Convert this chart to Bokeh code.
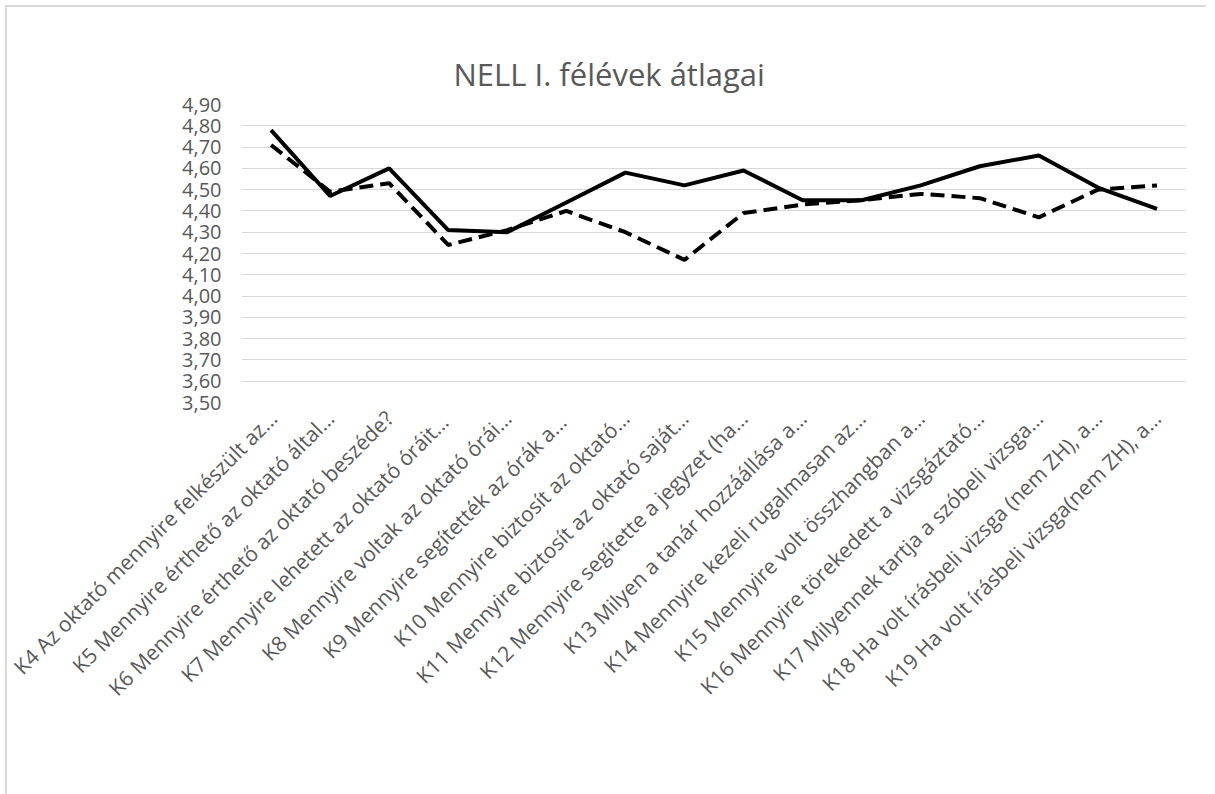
from bokeh.plotting import figure
from bokeh.models import Range1d, FixedTicker, CustomJSTickFormatter, Legend, LegendItem, ColumnDataSource
from bokeh.embed import file_html
from bokeh.resources import INLINE
import math

categories = [
    "K4 Az oktató mennyire felkészült az…",
    "K5 Mennyire érthető az oktató által…",
    "K6 Mennyire érthető az oktató beszéde?",
    "K7 Mennyire lehetett  az oktató óráit…",
    "K8 Mennyire voltak az oktató órái…",
    "K9 Mennyire segítették  az órák a…",
    "K10 Mennyire biztosít az oktató…",
    "K11 Mennyire biztosít az oktató saját…",
    "K12 Mennyire segítette a jegyzet (ha…",
    "K13 Milyen a tanár hozzáállása a…",
    "K14 Mennyire kezeli rugalmasan az…",
    "K15 Mennyire volt összhangban a…",
    "K16 Mennyire törekedett a vizsgáztató…",
    "K17 Milyennek tartja a szóbeli vizsga…",
    "K18 Ha volt írásbeli vizsga (nem ZH), a…",
    "K19 Ha volt írásbeli vizsga(nem ZH), a…",
]
series_2012 = [4.71, 4.49, 4.53, 4.24, 4.31, 4.40, 4.30, 4.17, 4.39, 4.43, 4.45, 4.48, 4.46, 4.37, 4.50, 4.52]
series_2013 = [4.78, 4.47, 4.60, 4.31, 4.30, 4.44, 4.58, 4.52, 4.59, 4.45, 4.45, 4.52, 4.61, 4.66, 4.51, 4.41]
name_2012 = "2012/13 tanév I. félév NELL"
name_2013 = "2013/14 tanév I. félév NELL"
title_text = "NELL I. félévek átlagai"
y_ticks = [3.5, 3.6, 3.7, 3.8, 3.9, 4.0, 4.1, 4.2, 4.3, 4.4, 4.5, 4.6, 4.7, 4.8, 4.9]

FONT = "Open Sans"
GRAY = "#595959"

src = ColumnDataSource(dict(cat=categories, a=series_2012, b=series_2013))

p = figure(frame_width=945, frame_height=298, x_range=categories, y_range=Range1d(3.5, 4.9),
           output_backend="svg", toolbar_location=None, title=title_text)
p.min_border_left = 234
p.min_border_right = 20
p.min_border_top = 97
p.min_border_bottom = 10
p.outline_line_color = None
p.margin = (5, 0, 0, 5)
p.styles = {"border-left": "2px solid #d9d9d9", "border-top": "2px solid #d9d9d9"}

p.title.align = "left"
p.title.offset = 212
p.title.text_font = FONT
p.title.text_font_size = "31px"
p.title.text_font_style = "normal"
p.title.text_color = GRAY
p.title.standoff = 20

r1 = p.line("cat", "a", source=src, line_color="black", line_width=4, line_dash="14 7")
r2 = p.line("cat", "b", source=src, line_color="black", line_width=4)

p.xgrid.grid_line_color = None
p.ygrid.grid_line_color = "#d9d9d9"
p.ygrid.grid_line_width = 1

p.yaxis.ticker = FixedTicker(ticks=y_ticks)
p.yaxis.formatter = CustomJSTickFormatter(code="return tick.toFixed(2).replace('.', ',');")
for ax in (p.xaxis, p.yaxis):
    ax.axis_line_color = None
    ax.major_tick_line_color = None
    ax.minor_tick_line_color = None
    ax.major_tick_out = 0
    ax.major_tick_in = 0
    ax.major_label_text_font = FONT
    ax.major_label_text_color = GRAY
p.yaxis.major_label_text_font_size = "20px"
p.xaxis.major_label_text_font_size = "21px"
p.yaxis.major_label_standoff = 20
p.xaxis.major_label_orientation = math.pi / 4
p.xaxis.major_label_standoff = 12
p.x_range.range_padding = 0

legend = Legend(items=[LegendItem(label=name_2012, renderers=[r1]),
                       LegendItem(label=name_2013, renderers=[r2])],
                orientation="horizontal", location="top_left")
legend.label_text_font = FONT
legend.label_text_font_size = "20px"
legend.label_text_color = GRAY
legend.glyph_width = 70
legend.glyph_height = 20
legend.spacing = 127
legend.label_standoff = 5
legend.padding = 10
legend.margin = -40
legend.border_line_color = None
legend.background_fill_alpha = 0
p.add_layout(legend, "below")

open("out.html", "w").write(file_html(p, INLINE))
